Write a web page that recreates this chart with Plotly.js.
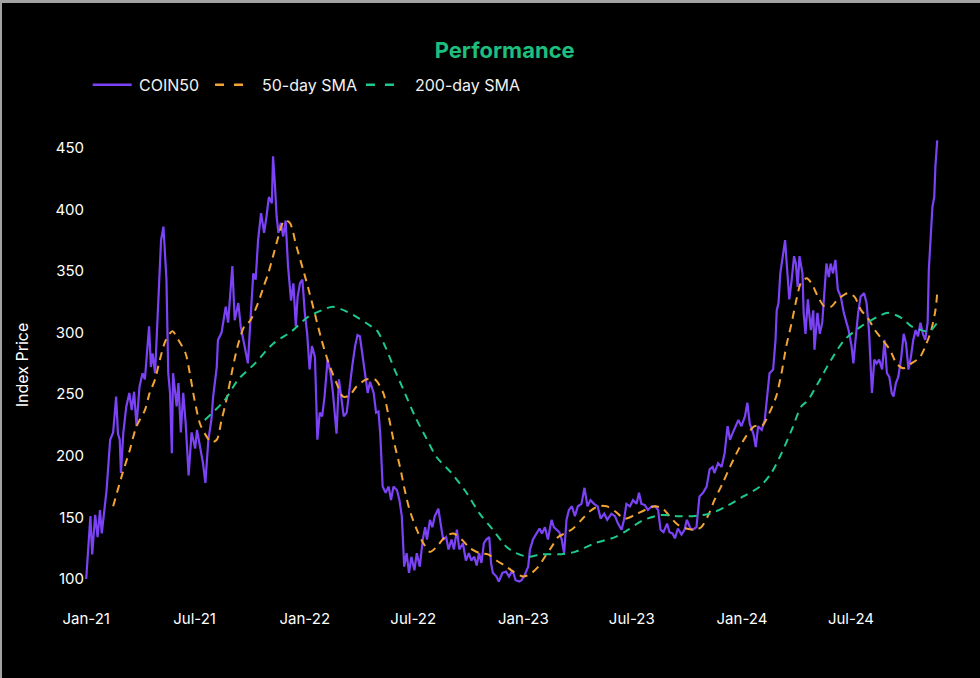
<!DOCTYPE html>
<html>
<head>
<meta charset="utf-8">
<script src="https://cdn.plot.ly/plotly-3.0.1.min.js"></script>
<style>
  html, body { margin: 0; padding: 0; background: #000; }
  #wrap { width: 978px; height: 675px; border-top: 3px solid #a3a3a3; border-left: 2px solid #a3a3a3; background: #000; }
  #chart { width: 978px; height: 675px; }
</style>
</head>
<body>
<div id="wrap"><div id="chart"></div></div>
<script>
// ---- COIN50 index ----
const coinDates = [
"2021-01-01","2021-01-08","2021-01-11","2021-01-16","2021-01-20","2021-01-24","2021-01-27","2021-02-01","2021-02-04","2021-02-10",
"2021-02-15","2021-02-20","2021-02-23","2021-02-26","2021-02-28","2021-03-04","2021-03-09","2021-03-14","2021-03-18","2021-03-22",
"2021-03-26","2021-03-31","2021-04-05","2021-04-09","2021-04-12","2021-04-16","2021-04-19","2021-04-22","2021-04-26","2021-04-30",
"2021-05-06","2021-05-10","2021-05-12","2021-05-15","2021-05-18","2021-05-21","2021-05-24","2021-05-26","2021-06-01","2021-06-04",
"2021-06-08","2021-06-12","2021-06-16","2021-06-21","2021-06-26","2021-07-02","2021-07-05","2021-07-10","2021-07-15","2021-07-19",
"2021-07-24","2021-07-29","2021-08-01","2021-08-07","2021-08-09","2021-08-15","2021-08-22","2021-08-26","2021-09-02","2021-09-06",
"2021-09-12","2021-09-16","2021-09-20","2021-09-25","2021-09-28","2021-10-03","2021-10-07","2021-10-11","2021-10-15","2021-10-20",
"2021-10-25","2021-10-29","2021-11-02","2021-11-07","2021-11-09","2021-11-12","2021-11-15","2021-11-18","2021-11-22","2021-11-26",
"2021-11-30","2021-12-04","2021-12-09","2021-12-13","2021-12-17","2021-12-20","2021-12-24","2021-12-28","2022-01-01","2022-01-05",
"2022-01-09","2022-01-13","2022-01-18","2022-01-22","2022-01-26","2022-01-30","2022-02-03","2022-02-08","2022-02-13","2022-02-17",
"2022-02-23","2022-02-27","2022-03-03","2022-03-07","2022-03-12","2022-03-16","2022-03-21","2022-03-26","2022-03-30","2022-04-03",
"2022-04-08","2022-04-12","2022-04-16","2022-04-20","2022-04-26","2022-04-30","2022-05-04","2022-05-07","2022-05-11","2022-05-16",
"2022-05-21","2022-05-25","2022-05-29","2022-06-04","2022-06-08","2022-06-12","2022-06-16","2022-06-20","2022-06-24","2022-06-28",
"2022-07-03","2022-07-07","2022-07-12","2022-07-17","2022-07-21","2022-07-24","2022-07-29","2022-08-02","2022-08-06","2022-08-12",
"2022-08-16","2022-08-20","2022-08-25","2022-08-29","2022-09-03","2022-09-07","2022-09-12","2022-09-16","2022-09-22","2022-09-27",
"2022-10-02","2022-10-06","2022-10-11","2022-10-15","2022-10-19","2022-10-23","2022-10-27","2022-10-31","2022-11-05","2022-11-08",
"2022-11-11","2022-11-17","2022-11-21","2022-11-27","2022-12-03","2022-12-08","2022-12-14","2022-12-19","2022-12-25","2022-12-29",
"2023-01-03","2023-01-09","2023-01-12","2023-01-17","2023-01-23","2023-01-28","2023-02-01","2023-02-06","2023-02-11","2023-02-17",
"2023-02-21","2023-02-25","2023-03-02","2023-03-06","2023-03-10","2023-03-14","2023-03-18","2023-03-23","2023-03-28","2023-04-02",
"2023-04-08","2023-04-13","2023-04-18","2023-04-23","2023-04-29","2023-05-05","2023-05-10","2023-05-16","2023-05-21","2023-05-28",
"2023-06-03","2023-06-08","2023-06-14","2023-06-18","2023-06-22","2023-06-28","2023-07-03","2023-07-09","2023-07-13","2023-07-17",
"2023-07-23","2023-07-28","2023-08-03","2023-08-09","2023-08-14","2023-08-18","2023-08-23","2023-08-29","2023-09-02","2023-09-07",
"2023-09-11","2023-09-16","2023-09-22","2023-09-27","2023-10-01","2023-10-07","2023-10-11","2023-10-17","2023-10-22","2023-10-28",
"2023-11-03","2023-11-08","2023-11-13","2023-11-16","2023-11-22","2023-11-28","2023-12-03","2023-12-08","2023-12-12","2023-12-16",
"2023-12-22","2023-12-26","2023-12-31","2024-01-06","2024-01-10","2024-01-14","2024-01-20","2024-01-24","2024-01-28","2024-02-03",
"2024-02-08","2024-02-12","2024-02-16","2024-02-22","2024-02-26","2024-02-28","2024-03-02","2024-03-05","2024-03-10","2024-03-13",
"2024-03-16","2024-03-20","2024-03-24","2024-03-28","2024-03-31","2024-04-03","2024-04-06","2024-04-11","2024-04-13","2024-04-16",
"2024-04-20","2024-04-25","2024-04-29","2024-05-01","2024-05-06","2024-05-10","2024-05-14","2024-05-18","2024-05-21","2024-05-25",
"2024-05-28","2024-06-01","2024-06-05","2024-06-09","2024-06-14","2024-06-19","2024-06-23","2024-06-27","2024-07-02","2024-07-05",
"2024-07-08","2024-07-13","2024-07-17","2024-07-23","2024-07-27","2024-07-31","2024-08-05","2024-08-09","2024-08-13","2024-08-17",
"2024-08-22","2024-08-26","2024-08-30","2024-09-03","2024-09-07","2024-09-10","2024-09-14","2024-09-18","2024-09-23","2024-09-27",
"2024-10-01","2024-10-05","2024-10-09","2024-10-13","2024-10-17","2024-10-21","2024-10-25","2024-10-29","2024-11-02","2024-11-06",
"2024-11-08","2024-11-11","2024-11-14","2024-11-17","2024-11-19","2024-11-22"
];
const coinValues = [
100,151,120,152,134,156,137,159,172,213,
219,248,218,213,186,219,240,251,237,252,
224,256,267,262,278,305,272,283,267,308,
375,386,367,343,267,251,202,267,240,259,
219,251,227,184,219,206,221,207,194,178,
213,229,248,272,294,300,321,308,354,310,
324,305,294,283,275,316,348,343,375,397,
381,394,410,405,443,421,394,381,389,378,
391,354,326,340,305,329,340,343,316,299,
270,289,280,213,235,232,248,278,267,251,
218,262,245,232,235,253,272,289,298,297,
278,262,251,260,251,235,236,218,175,170,
175,164,175,172,164,151,110,121,105,118,
107,121,110,132,142,132,148,142,151,157,
145,132,134,124,132,124,140,124,129,115,
121,115,118,111,121,113,129,132,134,113,
105,102,98,105,106,102,107,99,98,99,
103,110,124,132,137,141,137,142,132,148,
142,140,138,132,121,148,156,159,151,159,
161,174,159,164,161,159,149,153,148,153,
151,145,140,148,161,159,164,161,170,161,
160,156,159,159,156,140,138,145,138,137,
133,141,136,140,148,141,140,142,167,170,
175,189,191,186,194,191,202,224,213,218,
224,229,224,232,243,226,218,207,224,221,
229,251,267,270,294,318,324,348,364,375,
354,327,343,362,356,337,362,348,316,299,
327,302,318,286,316,299,308,340,356,345,
356,348,359,335,329,316,308,302,289,275,
291,316,329,332,324,302,251,278,275,278,
270,294,267,264,251,248,259,264,280,299,
291,270,280,294,302,297,308,299,294,308,
351,383,402,410,435,456
];

// ---- 50-day SMA ----
const sma50Dates = [
"2021-02-15","2021-03-01","2021-03-15","2021-03-26","2021-04-09","2021-04-17","2021-04-26","2021-05-04","2021-05-14","2021-05-25",
"2021-06-04","2021-06-16","2021-06-23","2021-07-01","2021-07-10","2021-07-18","2021-07-29","2021-08-07","2021-08-15","2021-08-23",
"2021-09-03","2021-09-12","2021-09-23","2021-10-01","2021-10-15","2021-10-24","2021-11-01","2021-11-09","2021-11-18","2021-11-28",
"2021-12-07","2021-12-18","2021-12-31","2022-01-09","2022-01-19","2022-01-29","2022-02-10","2022-02-23","2022-03-06","2022-03-17",
"2022-03-28","2022-04-14","2022-04-28","2022-05-12","2022-05-21","2022-05-29","2022-06-09","2022-06-17","2022-06-25","2022-07-07",
"2022-07-18","2022-07-29","2022-08-09","2022-08-23","2022-09-06","2022-09-20","2022-10-04","2022-10-20","2022-11-03","2022-11-17",
"2022-12-04","2022-12-15","2023-01-01","2023-01-15","2023-01-26","2023-02-06","2023-02-17","2023-02-28","2023-03-11","2023-03-25",
"2023-04-08","2023-04-22","2023-05-06","2023-05-20","2023-06-03","2023-06-19","2023-07-06","2023-07-23","2023-08-09","2023-08-22",
"2023-09-02","2023-09-16","2023-09-30","2023-10-14","2023-10-25","2023-11-05","2023-11-16","2023-11-30","2023-12-12","2023-12-26",
"2024-01-08","2024-01-22","2024-02-03","2024-02-16","2024-02-27","2024-03-07","2024-03-15","2024-03-24","2024-04-01","2024-04-09",
"2024-04-18","2024-04-26","2024-05-07","2024-05-18","2024-05-29","2024-06-09","2024-06-26","2024-07-07","2024-07-18","2024-07-29",
"2024-08-10","2024-08-21","2024-09-04","2024-09-15","2024-09-26","2024-10-10","2024-10-24","2024-11-04","2024-11-12","2024-11-19",
"2024-11-22"
];
const sma50Values = [
159,183,205,224,237,251,262,278,294,301,
294,283,267,245,226,218,211,213,229,245,
272,291,306,309,324,337,348,362,378,391,
389,370,348,332,313,294,275,259,248,249,
256,262,262,251,232,213,191,172,156,140,
129,122,126,134,137,132,125,121,120,115,
110,106,102,105,110,118,126,134,137,141,
148,155,159,159,155,149,152,156,159,157,
151,144,141,140,142,151,164,178,191,205,
216,224,224,235,248,267,289,308,327,341,
344,340,329,321,321,327,332,329,318,312,
302,295,286,275,271,275,280,291,302,318,
332
];

// ---- 200-day SMA ----
const sma200Dates = [
"2021-07-18","2021-08-20","2021-09-12","2021-10-10","2021-11-09","2021-12-10","2022-01-07","2022-01-29","2022-02-17","2022-03-12",
"2022-03-31","2022-04-22","2022-05-01","2022-05-15","2022-05-31","2022-06-17","2022-07-04","2022-07-21","2022-08-09","2022-09-03",
"2022-09-28","2022-10-20","2022-11-11","2022-12-04","2022-12-20","2023-01-09","2023-01-31","2023-02-28","2023-03-28","2023-04-30",
"2023-06-03","2023-06-25","2023-07-17","2023-08-09","2023-08-22","2023-09-14","2023-10-11","2023-11-08","2023-12-06","2024-01-03",
"2024-01-31","2024-02-19","2024-03-07","2024-03-24","2024-04-09","2024-04-20","2024-05-07","2024-05-29","2024-06-20","2024-07-18",
"2024-08-15","2024-09-01","2024-09-23","2024-10-10","2024-10-26","2024-11-09","2024-11-22"
];
const sma200Values = [
229,245,262,275,291,301,313,318,321,317,
312,305,302,289,270,251,232,216,199,186,
170,153,140,126,121,118,120,120,122,129,
134,140,147,151,152,151,151,153,159,167,
175,186,202,221,240,245,259,278,294,305,
313,316,312,305,302,301,308
];

// ---- axis ticks and legend labels ----
const xTickVals = ["2021-01-01","2021-07-01","2022-01-01","2022-07-01","2023-01-01","2023-07-01","2024-01-01","2024-07-01"];
const xTickText = ["Jan-21","Jul-21","Jan-22","Jul-22","Jan-23","Jul-23","Jan-24","Jul-24"];
const yTickVals = [100,150,200,250,300,350,400,450];
const seriesNames = ["COIN50", "50-day SMA", "200-day SMA"];

const PURPLE = "#7B42F6";
const ORANGE = "#F2A534";
const GREEN = "#1EC98C";
const COLORS = [PURPLE, ORANGE, GREEN];
const FONT = "Inter, 'Noto Sans', sans-serif";
const DASH = "8px,6px";

const traces = [
  { type: "scatter", mode: "lines", name: seriesNames[0], x: coinDates, y: coinValues,
    line: { color: PURPLE, width: 2.2 } },
  { type: "scatter", mode: "lines", name: seriesNames[1], x: sma50Dates, y: sma50Values,
    line: { color: ORANGE, width: 2, dash: DASH, shape: "spline", smoothing: 0.8 } },
  { type: "scatter", mode: "lines", name: seriesNames[2], x: sma200Dates, y: sma200Values,
    line: { color: GREEN, width: 2, dash: DASH, shape: "spline", smoothing: 0.8 } }
];

// hand-placed legend (line sample + label) above the plot, in paper coordinates
const legY = 1.0964;
const legSample = [[0.0090, 0.0543], [0.1512, 0.1841], [0.3267, 0.3605]];
const legText = [0.0608, 0.2031, 0.3814];
const legDash = ["solid", "9px,10px", "9px,10px"];
const shapes = legSample.map((s, i) => ({
  type: "line", xref: "paper", yref: "paper", x0: s[0], x1: s[1], y0: legY, y1: legY,
  line: { color: COLORS[i], width: 2.5, dash: legDash[i] }
}));
const annotations = legText.map((x, i) => ({
  xref: "paper", yref: "paper", x: x, y: legY, xanchor: "left", yanchor: "middle",
  text: seriesNames[i], showarrow: false, font: { family: FONT, size: 16, color: "#f2f2f2" }
}));

const layout = {
  width: 978, height: 675,
  paper_bgcolor: "#000", plot_bgcolor: "#000",
  margin: { l: 83, r: 35, t: 127, b: 78 },
  font: { family: FONT, color: "#ffffff", size: 15 },
  title: { text: "<b>Performance</b>", font: { family: FONT, size: 22, color: "#1DBF7E" },
           xref: "container", yref: "container", x: 0.514, y: 0.930, xanchor: "center", yanchor: "middle" },
  showlegend: false,
  shapes: shapes,
  annotations: annotations,
  xaxis: { type: "date", range: ["2020-12-30", "2024-12-05"], tickmode: "array", tickvals: xTickVals, ticktext: xTickText,
           showgrid: false, zeroline: false, showline: false, ticks: "", ticklabelstandoff: 8,
           tickfont: { family: FONT, size: 15, color: "#ffffff" } },
  yaxis: { range: [82.95, 464.4], tickmode: "array", tickvals: yTickVals,
           showgrid: false, zeroline: false, showline: false, ticks: "",
           tickfont: { family: FONT, size: 15, color: "#ffffff" },
           title: { text: "Index Price", font: { family: FONT, size: 16, color: "#ffffff" }, standoff: 22 } }
};

Plotly.newPlot("chart", traces, layout, { displayModeBar: false, staticPlot: true });
</script>
</body>
</html>
